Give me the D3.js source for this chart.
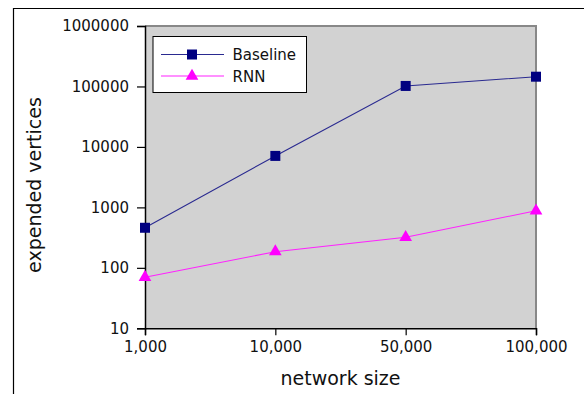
<!DOCTYPE html>
<html>
<head>
<meta charset="utf-8">
<script src="https://cdn.jsdelivr.net/npm/d3@7"></script>
<style>
  html, body { margin: 0; padding: 0; background: #fff; }
  svg { display: block; font-family: "DejaVu Sans", sans-serif; }
</style>
</head>
<body>
<svg id="chart" width="584" height="394"></svg>
<script>
// Network sizes tested and vertices expanded by each search method
const categories = ["1,000", "10,000", "50,000", "100,000"];
const baselineValues = [460, 7100, 102000, 145000];
const rnnValues = [70, 185, 320, 880];
const yTicks = [10, 100, 1000, 10000, 100000, 1000000];
const seriesNames = ["Baseline", "RNN"];

const svg = d3.select("#chart");
const W = 584, H = 394;
const plot = { left: 145, right: 536, top: 26, bottom: 328.3 };

// outer frame (left and top edges)
svg.append("path")
  .attr("d", `M13.5,${H} V8.5 H${W}`)
  .attr("fill", "none").attr("stroke", "#000").attr("stroke-width", 1.2);

const x = d3.scalePoint().domain(categories).range([plot.left, plot.right]).padding(0);
const y = d3.scaleLog().domain([10, 1000000]).range([plot.bottom, plot.top]);

// plot area
svg.append("rect")
  .attr("x", plot.left).attr("y", plot.top)
  .attr("width", plot.right - plot.left).attr("height", plot.bottom - plot.top)
  .attr("fill", "#d2d2d2");
svg.append("path")
  .attr("d", `M${plot.left},${plot.top} H${plot.right} V${plot.bottom}`)
  .attr("fill", "none").attr("stroke", "#888").attr("stroke-width", 2);

// axes
const yAxis = d3.axisLeft(y).tickValues(yTicks).tickFormat(d3.format("d")).tickSize(8).tickPadding(8);
const gy = svg.append("g").attr("transform", `translate(${plot.left},0)`).call(yAxis);
const xAxis = d3.axisBottom(x).tickSize(7).tickPadding(6);
const gx = svg.append("g").attr("transform", `translate(0,${plot.bottom})`).call(xAxis);
[gx, gy].forEach(g => {
  g.select(".domain").attr("stroke", "#000").attr("stroke-width", 1.5);
  g.selectAll(".tick line").attr("stroke", "#000").attr("stroke-width", 1.2);
  g.selectAll(".tick text").attr("fill", "#111").style("font-size", "15px")
    .style("font-family", "'DejaVu Sans', sans-serif");
});

// axis titles
svg.append("text").attr("x", 340.5).attr("y", 385).attr("text-anchor", "middle")
  .style("font-size", "19px").attr("fill", "#111").text("network size");
svg.append("text").attr("transform", "translate(41,185) rotate(-90)").attr("text-anchor", "middle")
  .style("font-size", "19px").attr("fill", "#111").text("expended vertices");

// series
const series = [
  { name: seriesNames[0], values: baselineValues, color: "#000080", lineColor: "#2a2a90", shape: d3.symbolSquare, size: 100 },
  { name: seriesNames[1], values: rnnValues, color: "#ff00ff", lineColor: "#ff22ff", shape: d3.symbolTriangle, size: 70 }
];
const line = d3.line().x((d, i) => x(categories[i])).y(d => y(d));

series.forEach(s => {
  svg.append("path").datum(s.values).attr("d", line)
    .attr("fill", "none").attr("stroke", s.lineColor).attr("stroke-width", 1.1);
  svg.selectAll(null).data(s.values).enter().append("path")
    .attr("d", d3.symbol().type(s.shape).size(s.size))
    .attr("transform", (d, i) => `translate(${x(categories[i])},${y(d)})`)
    .attr("fill", s.color);
});

// legend
const lg = svg.append("g");
lg.append("rect").attr("x", 153).attr("y", 36.5).attr("width", 153.5).attr("height", 56)
  .attr("fill", "#fff").attr("stroke", "#000").attr("stroke-width", 1);
series.forEach((s, i) => {
  const ly = 54.5 + i * 21.5;
  lg.append("line").attr("x1", 161).attr("x2", 224).attr("y1", ly).attr("y2", ly)
    .attr("stroke", s.lineColor).attr("stroke-width", 1.1);
  lg.append("path").attr("d", d3.symbol().type(s.shape).size(s.size))
    .attr("transform", `translate(192,${ly})`).attr("fill", s.color);
  lg.append("text").attr("x", 232.5).attr("y", ly + 5.5)
    .style("font-size", "15px").attr("fill", "#111").text(s.name);
});
</script>
</body>
</html>
